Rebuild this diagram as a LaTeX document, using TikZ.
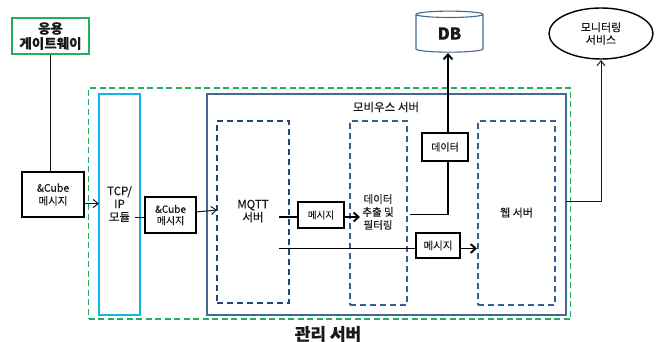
\documentclass[tikz,border=0pt]{standalone}
\usepackage{fontspec}
\setmainfont[FakeBold=0.3]{Noto Sans CJK KR}
\usetikzlibrary{shapes.geometric,arrows.meta}
\definecolor{grn}{RGB}{30,175,95}
\definecolor{cyn}{RGB}{20,180,235}
\definecolor{slate}{RGB}{70,105,145}
\definecolor{navy}{RGB}{35,70,115}
\definecolor{midb}{RGB}{55,95,145}
\definecolor{ink}{RGB}{25,25,25}
\tikzset{
  x=1pt,y=-1pt,
  every node/.style={inner sep=0pt,outer sep=0pt,align=center,text=ink},
  plainbox/.style={draw=black,line width=1.3pt,fill=white,anchor=north west},
  dashbox/.style={draw=navy,dashed,dash pattern=on 6pt off 4pt,anchor=north west},
  link/.style={draw=ink,line width=1pt},
  thin arrow/.style={link,-{Straight Barb[length=5pt,width=8pt]}},
  thick arrow/.style={draw=black,line width=1.9pt,-{Straight Barb[length=5pt,width=9pt]}}
}
\newcommand{\bx}[6]{\node[#1,minimum width=#4-#3,minimum height=#6-#5] (#2) at (#3,#5) {};}
\begin{document}
\begin{tikzpicture}
\useasboundingbox (0,0) rectangle (663,342);
% containers
\bx{draw=grn,dashed,dash pattern=on 6pt off 3.5pt,line width=1.3pt,anchor=north west}{mgmt}{88.5}{570.5}{88}{319}
\bx{draw=cyn,line width=1.2pt,anchor=north west}{tcp}{99}{140}{94}{315}
\bx{draw=slate,line width=1.4pt,anchor=north west}{mobius}{207}{566}{94}{315}
\bx{dashbox,line width=1.4pt}{mqtt}{217}{289}{121}{303}
\bx{dashbox,draw=midb,line width=2pt}{filter}{350}{407}{121}{305}
\bx{dashbox,draw=midb,line width=1.4pt}{web}{478}{555}{121}{305}
% coordinates
\coordinate (c1out) at (84,203.5);
\coordinate (c1in) at (99,203.5);
\coordinate (tcpout) at (135,217);
\coordinate (c2in) at (145,217);
\coordinate (c2out) at (196,212);
\coordinate (mqin) at (217,210);
\coordinate (m1a) at (279,217);
\coordinate (m1b) at (298,217);
\coordinate (m1c) at (344,217);
\coordinate (m1d) at (360,217);
\coordinate (fout) at (410,214.5);
\coordinate (fup) at (448,214.5);
\coordinate (m2a) at (279,248.5);
\coordinate (m2b) at (416,248.5);
\coordinate (m2c) at (460,248.5);
\coordinate (m2d) at (477,248.5);
\coordinate (mbout) at (566,201.5);
\coordinate (mbup) at (601,201.5);
\coordinate (dbin) at (448,53);
\coordinate (monin) at (601,60);
\coordinate (gwout) at (50.5,54);
\coordinate (c1top) at (50.5,172);
% connectors (below boxes that interrupt them)
\draw[thick arrow] (fout) -- (fup) -- (dbin);
\draw[link,-{Straight Barb[length=5pt,width=8pt]}] (mbout) -- (mbup) -- (monin);
\draw[link,line width=1.1pt] (gwout) -- (c1top);
\draw[thin arrow] (c1out) -- (c1in);
\draw[link] (tcpout) -- (c2in);
\draw[thin arrow] (c2out) -- (mqin);
\draw[draw=black,line width=1.9pt] (m1a) -- (m1b);
\draw[thick arrow] (m1c) -- (m1d);
\draw[draw=black,line width=1.9pt] (m2a) -- (m2b);
\draw[thick arrow] (m2c) -- (m2d);
% boxes
\bx{draw=grn,line width=1.4pt,anchor=north west}{gw}{12}{89}{18}{54}
\bx{plainbox}{cube1}{22}{84}{172}{217}
\bx{plainbox}{cube2}{145}{196}{197}{233}
\bx{plainbox}{msg1}{298}{344}{202}{228}
\bx{plainbox}{data}{422}{468}{133}{161}
\bx{plainbox}{msg2}{416}{460}{233}{258}
% texts
\node[font=\fontsize{13.5}{15}\selectfont\bfseries] at (gw.center) {응용\\게이트웨이};
\node[font=\fontsize{10.5}{13}\selectfont] at (cube1.center) {\&Cube\\메시지};
\node[font=\fontsize{11.5}{13}\selectfont] at (119.5,204) {TCP/\\IP\\모듈};
\node[font=\fontsize{10}{11.5}\selectfont] at (cube2.center) {\&Cube\\메시지};
\node[font=\fontsize{11.5}{13}\selectfont] at (253,211) {MQTT\\서버};
\node[font=\fontsize{9.5}{10}\selectfont] at (msg1.center) {메시지};
\node[font=\fontsize{10}{10}\selectfont] at (data.center) {데이터};
\node[font=\fontsize{10.5}{10}\selectfont] at (msg2.center) {메시지};
\node[font=\fontsize{10.5}{13}\selectfont] at (378,212) {데이터\\추출 및\\필터링};
\node[font=\fontsize{11}{12}\selectfont] at (516.5,212.5) {웹 서버};
\node[font=\fontsize{11.5}{12}\selectfont] at (386,107) {모비우스 서버};
\node[font=\fontsize{17}{18}\selectfont\bfseries] at (328,334) {관리 서버};
\node[cylinder,shape border rotate=90,aspect=0.27,draw=slate,line width=1.1pt,fill=white,minimum width=67pt,minimum height=41pt,font=\fontsize{16.5}{18}\selectfont\bfseries] (db) at (449.5,33.5) {\raisebox{-3pt}{DB}};
\node[ellipse,draw=black,line width=1.4pt,fill=white,minimum width=104pt,minimum height=51pt,font=\fontsize{11}{12.5}\selectfont] (mon) at (601,33.5) {모니터링\\서비스};
\end{tikzpicture}
\end{document}
